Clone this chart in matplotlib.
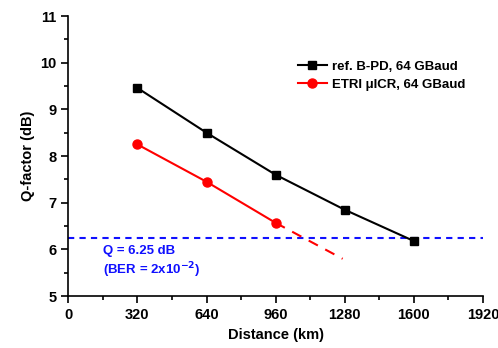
import matplotlib.pyplot as plt
from matplotlib.ticker import MultipleLocator

plt.rcParams["font.family"] = ["Liberation Sans", "DejaVu Sans"]
plt.rcParams["font.weight"] = "bold"

# data
dist = [320, 640, 960, 1280, 1600]
q_ref = [9.46, 8.5, 7.6, 6.85, 6.18]

dist_etri = [320, 640, 960]
q_etri = [8.25, 7.45, 6.57]

# dashed extrapolation of the ETRI curve
dist_ext = [960, 1270]
q_ext = [6.57, 5.8]

q_limit = 6.25

fig = plt.figure(figsize=(4.98, 3.48), dpi=100)
ax = fig.add_axes([0.137, 0.149, 0.833, 0.805])

ax.axhline(q_limit, color="#1010ff", ls=(0, (3, 2.5)), lw=1.5, zorder=1)
ax.plot(dist, q_ref, color="black", marker="s", ms=6, lw=1.5,
        label="ref. B-PD, 64 GBaud", zorder=3)
ax.plot(dist_etri, q_etri, color="red", marker="o", ms=6.5, lw=1.5,
        label="ETRI \u03bcICR, 64 GBaud", zorder=3)
ax.plot(dist_ext, q_ext, color="red", ls=(0, (5, 4)), lw=1.5, zorder=2)

ax.text(160, 5.97, "Q = 6.25 dB", color="#1010ff", fontsize=9.5,
        fontweight="bold", va="center")
ax.text(160, 5.55, r"(BER = 2x10$^{\mathbf{-2}}$)", color="#1010ff",
        fontsize=9.5, fontweight="bold", va="center")

ax.set_xlim(0, 1920)
ax.set_ylim(5, 11)
ax.xaxis.set_major_locator(MultipleLocator(320))
ax.xaxis.set_minor_locator(MultipleLocator(160))
ax.yaxis.set_major_locator(MultipleLocator(1))
ax.yaxis.set_minor_locator(MultipleLocator(0.5))
ax.tick_params(which="major", direction="out", length=5, width=1.2,
               labelsize=10.5)
ax.tick_params(which="minor", direction="out", length=3, width=1.2)
ax.spines["top"].set_visible(False)
ax.spines["right"].set_visible(False)
for s in ("left", "bottom"):
    ax.spines[s].set_linewidth(1.2)

ax.set_xlabel("Distance (km)", fontsize=10.5, fontweight="bold")
ax.set_ylabel("Q-factor (dB)", fontsize=10.5, fontweight="bold")

ax.legend(loc="upper left", bbox_to_anchor=(0.553, 0.842), frameon=False,
          fontsize=9.5, handlelength=2.2, handletextpad=0.4,
          labelspacing=0.45, borderaxespad=0, borderpad=0)

fig.savefig("out.png", dpi=100)
